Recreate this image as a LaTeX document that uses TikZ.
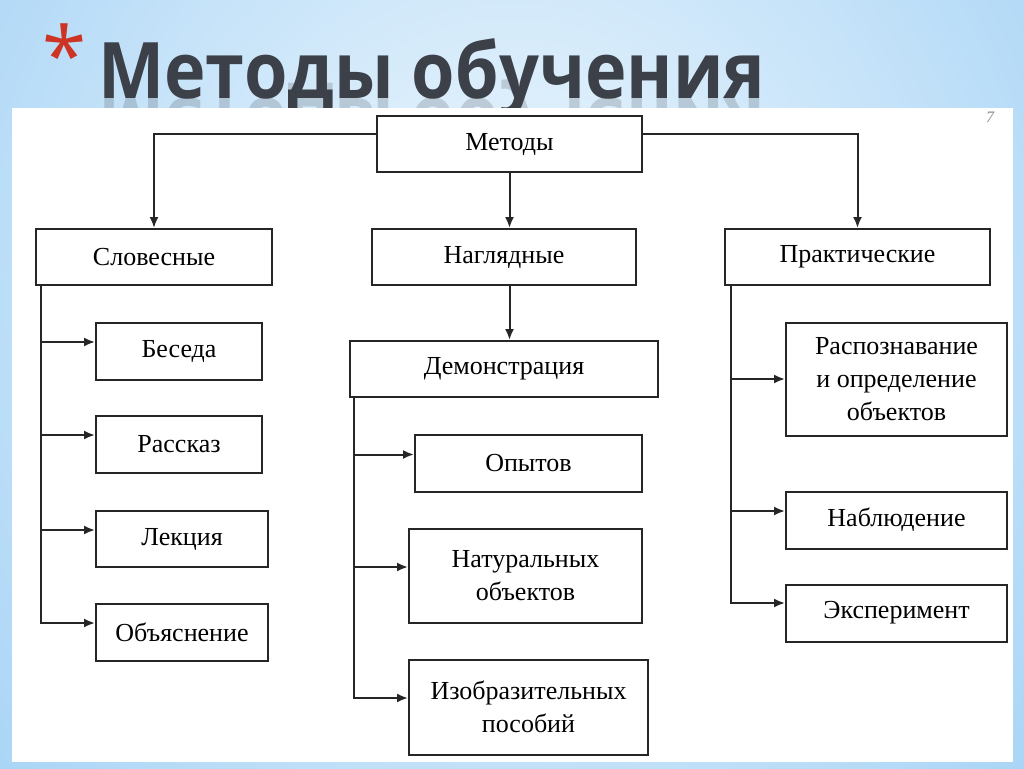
\documentclass[tikz,border=0pt]{standalone}
\usepackage{fontspec}
\setmainfont{Liberation Serif}
\newfontfamily\headfont{Open Sans}
\usetikzlibrary{arrows.meta}
\tikzset{>={Latex[width=9pt,length=11pt]}}

\definecolor{skyblue}{RGB}{160,208,245}
\definecolor{paleblue}{RGB}{240,248,253}
\definecolor{titlegray}{RGB}{60,64,72}
\definecolor{starred}{RGB}{205,52,36}

\tikzset{
  box/.style={draw=black!85, line width=2pt, fill=white, inner sep=0pt, align=center,
    font=\fontsize{26}{33}\selectfont},
  link/.style={draw=black!85, line width=2pt},
  headline/.style={anchor=base west, inner sep=0pt, text=titlegray, xscale=0.9, transform shape,
    font=\headfont\bfseries\fontsize{78}{78}\selectfont},
}

\begin{document}
\begin{tikzpicture}[x=1pt,y=-1pt]

  \useasboundingbox (0,0) rectangle (1024,768);

  %% background and slide title
  \fill[skyblue] (0,0) rectangle (1024,768);
  \shade[inner color=paleblue, outer color=skyblue] (-260,-520) rectangle (1284,1120);
  \node[anchor=north, inner sep=0pt, text=starred, font=\headfont\fontsize{80}{80}\selectfont] (star) at (65,24) {*};
  \node[headline] (title) at (98,98) {Методы обучения};
  \node[headline, yscale=-1, opacity=0.2] (mirror) at (98,98) {Методы обучения};
  \fill[white] (12,108) rectangle (1013,762);
  \node[text=black!45, font=\fontsize{16}{16}\selectfont\itshape] (pagenum) at (990,117) {7};

  %% top levels
  \node[box, minimum width=265, minimum height=56] (metody) at (509.5,144) {Методы};
  \node[box, minimum width=236, minimum height=56] (slov) at (154,257) {Словесные};
  \node[box, minimum width=264, minimum height=56] (nagl) at (504,257) {Наглядные};
  \node[box, minimum width=265, minimum height=56] (prakt) at (857.5,257) {Практические};

  %% leaves
  \node[box, minimum width=166, minimum height=57] (beseda) at (179,351) {Беседа};
  \node[box, minimum width=166, minimum height=57] (rasskaz) at (179,444) {Рассказ};
  \node[box, minimum width=172, minimum height=56] (lekcia) at (182,539) {Лекция};
  \node[box, minimum width=172, minimum height=57] (obyasn) at (182,632) {Объяснение};

  \node[box, minimum width=308, minimum height=56] (demo) at (504,369) {Демонстрация};
  \node[box, minimum width=227, minimum height=57] (opyt) at (528.5,463.5) {Опытов};
  \node[box, minimum width=233, minimum height=94] (natur) at (525.5,576) {Натуральных\\объектов};
  \node[box, minimum width=239, minimum height=95] (izobr) at (528.5,707) {Изобразительных\\пособий};

  \node[box, minimum width=221, minimum height=113] (raspozn) at (896.5,379) {Распознавание\\и определение\\объектов};
  \node[box, minimum width=221, minimum height=57] (nabl) at (896.5,520) {Наблюдение};
  \node[box, minimum width=221, minimum height=57] (eksp) at (896.5,613) {Эксперимент};

  %% connectors
  \draw[link,->] ([yshift=10pt]metody.west) -| (slov.north);
  \draw[link,->] ([yshift=10pt]metody.east) -| (prakt.north);
  \draw[link,->] (metody.south) -- (metody.south |- nagl.north);
  \draw[link,->] (metody.south |- nagl.south) -- (metody.south |- demo.north);

  \coordinate (slovstem) at ([xshift=6pt]slov.south west);
  \foreach \leaf in {beseda,rasskaz,lekcia,obyasn}
    \draw[link,->] (slovstem) |- ([yshift=9pt]\leaf.west);

  \coordinate (demostem) at ([xshift=5pt]demo.south west);
  \foreach \leaf in {opyt,natur,izobr}
    \draw[link,->] (demostem) |- ([yshift=9pt]\leaf.west);

  \coordinate (praktstem) at ([xshift=7pt]prakt.south west);
  \foreach \leaf/\dy in {raspozn/0,nabl/9,eksp/10}
    \draw[link,->] (praktstem) |- ([yshift=\dy pt]\leaf.west);

\end{tikzpicture}
\end{document}
